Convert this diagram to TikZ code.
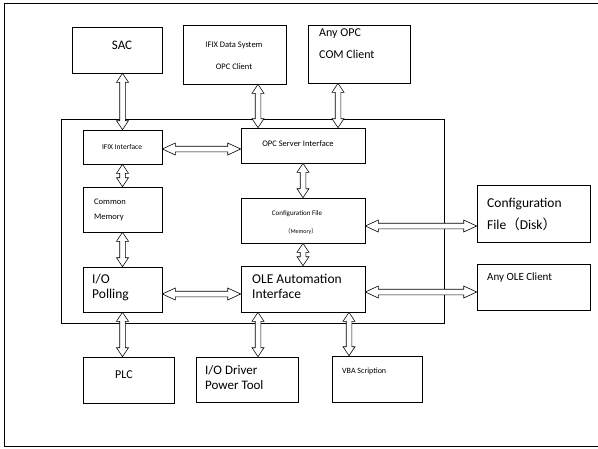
\documentclass[tikz,border=0pt]{standalone}
\usepackage{fontspec}
\setmainfont{Carlito}
\newfontfamily\cjk{Noto Sans CJK SC}
\usetikzlibrary{arrows.meta, positioning, calc}
\def\tiplen{9pt}

\begin{document}
\begin{tikzpicture}[x=1pt, y=-1pt, every node/.style={inner sep=0pt},
    blk/.style={draw, line width=0.6pt, rectangle},
    tl/.code={\def\tiplen{#1}},
    % hollow double-headed arrow, outline drawn as a polygon
    dar/.style={draw, fill=white, line width=0.6pt, line join=miter,
      to path={let \p1=(\tikztostart), \p2=(\tikztotarget),
          \p3=($(\p1)!\tiplen!(\p2)$), \p4=($(\p2)!\tiplen!(\p1)$) in
        (\p1) -- ($(\p3)!6pt!90:(\p2)$) -- ($(\p3)!2.8pt!90:(\p2)$)
        -- ($(\p4)!2.8pt!-90:(\p1)$) -- ($(\p4)!6pt!-90:(\p1)$) -- (\p2)
        -- ($(\p4)!6pt!90:(\p1)$) -- ($(\p4)!2.8pt!90:(\p1)$)
        -- ($(\p3)!2.8pt!-90:(\p2)$) -- ($(\p3)!6pt!-90:(\p2)$) -- cycle}},
    txl/.style={anchor=west, align=left}]
  \useasboundingbox (0,0) rectangle (598,448);
  % outer frame (right side cut off)
  \draw[line width=0.6pt] (598,3) -- (4,3) -- (4,446) -- (598,446);
  % the core box
  \node[blk, minimum width=383pt, minimum height=204pt] (core) at (252.5,221) {};
  % boxes: name / x1 / y1 / x2 / y2
  \foreach \nm/\xa/\ya/\xb/\yb in {
      sac/72/27/162/73,
      ifds/183/25/286/84,
      anyopc/308/25/410/83,
      ifxi/83/130/162/164,
      opcs/241/128/365/163,
      cmem/83/187/162/232,
      cfgm/241/198/365/243,
      iop/83/267/162/312,
      ole/241/266/365/312,
      disk/477/185/590/242,
      anyole/477/264/590/310,
      plc/83/357/174/403,
      iodrv/196/357/298/402,
      vba/332/356/422/402}
  {
    \node[blk, minimum width={(\xb-\xa)*1pt}, minimum height={(\yb-\ya)*1pt}]
      (\nm) at ({(\xa+\xb)/2},{(\ya+\yb)/2}) {};
  }
  % texts
  \node[font=\fontsize{13}{14}\selectfont] (sac-t) at (122,45) {SAC};
  \node[font=\fontsize{8.5}{10}\selectfont] (ifds-t1) at (234,45) {IFIX Data System};
  \node[font=\fontsize{8.5}{10}\selectfont] (ifds-t2) at (234,67) {OPC Client};
  \node[txl, font=\fontsize{12}{22}\selectfont] (anyopc-t) at (319,44) {Any OPC\\COM Client};
  \node[font=\fontsize{7.5}{9}\selectfont] (ifxi-t) at (122,147) {IFIX Interface};
  \node[font=\fontsize{8.5}{10}\selectfont] (opcs-t) at (298,144) {OPC Server Interface};
  \node[txl, font=\fontsize{8.5}{15}\selectfont] (cmem-t) at (94,209.5) {Common\\Memory};
  \node[font=\fontsize{7}{9}\selectfont] (cfgm-t1) at (297,214) {Configuration File};
  \node[font=\fontsize{6}{8}\selectfont] (cfgm-t2) at (301,231) {{\cjk （}Memory{\cjk ）}};
  \node[txl, font=\fontsize{13.5}{15}\selectfont] (iop-t) at (92,287.5) {I/O\\Polling};
  \node[txl, font=\fontsize{13.5}{15}\selectfont] (ole-t) at (252,286.5) {OLE Automation\\Interface};
  \node[txl, font=\fontsize{13.5}{22}\selectfont] (disk-t) at (487,214) {Configuration\\File{\cjk （}Disk{\cjk ）}};
  \node[txl, font=\fontsize{11}{13}\selectfont] (anyole-t) at (487,278) {Any OLE Client};
  \node[font=\fontsize{12}{14}\selectfont] (plc-t) at (124,375) {PLC};
  \node[txl, font=\fontsize{13}{15}\selectfont] (iodrv-t) at (205,377.5) {I/O Driver\\Power Tool};
  \node[txl, font=\fontsize{8}{10}\selectfont] (vba-t) at (342,371) {VBA Scription};
  % hollow double arrows, vertical
  \draw[dar] (sac.south -| ifxi.north) to (ifxi.north);
  \draw[dar] ([xshift=23.5pt]ifds.south) to ([xshift=23.5pt]ifds.south |- opcs.north);
  \draw[dar] ([xshift=-21pt]anyopc.south) to ([xshift=-21pt]anyopc.south |- opcs.north);
  \draw[dar] (ifxi.south) to (cmem.north);
  \draw[dar] (cmem.south) to (iop.north);
  \draw[dar] (opcs.south) to (opcs.south |- cfgm.north);
  \draw[dar] (cfgm.south) to (ole.north);
  \draw[dar] (iop.south) to (iop.south |- plc.north);
  \draw[dar] ([xshift=-45pt]ole.south) to ([xshift=-45pt]ole.south |- iodrv.north);
  \draw[dar] ([xshift=46pt]ole.south) to ([xshift=46pt]ole.south |- vba.north);
  % horizontal ones, longer tips
  \draw[dar, tl=13pt] ([yshift=-2pt]ifxi.east) to ([yshift=-2pt]ifxi.east -| opcs.west);
  \draw[dar, tl=13pt] ([yshift=-5.5pt]cfgm.east) to ([yshift=-5.5pt]cfgm.east -| disk.west);
  \draw[dar, tl=13pt] ([yshift=-4.5pt]iop.east) to ([yshift=-4.5pt]iop.east -| ole.west);
  \draw[dar, tl=13pt] ([yshift=-3pt]ole.east) to ([yshift=-3pt]ole.east -| anyole.west);
\end{tikzpicture}
\end{document}
